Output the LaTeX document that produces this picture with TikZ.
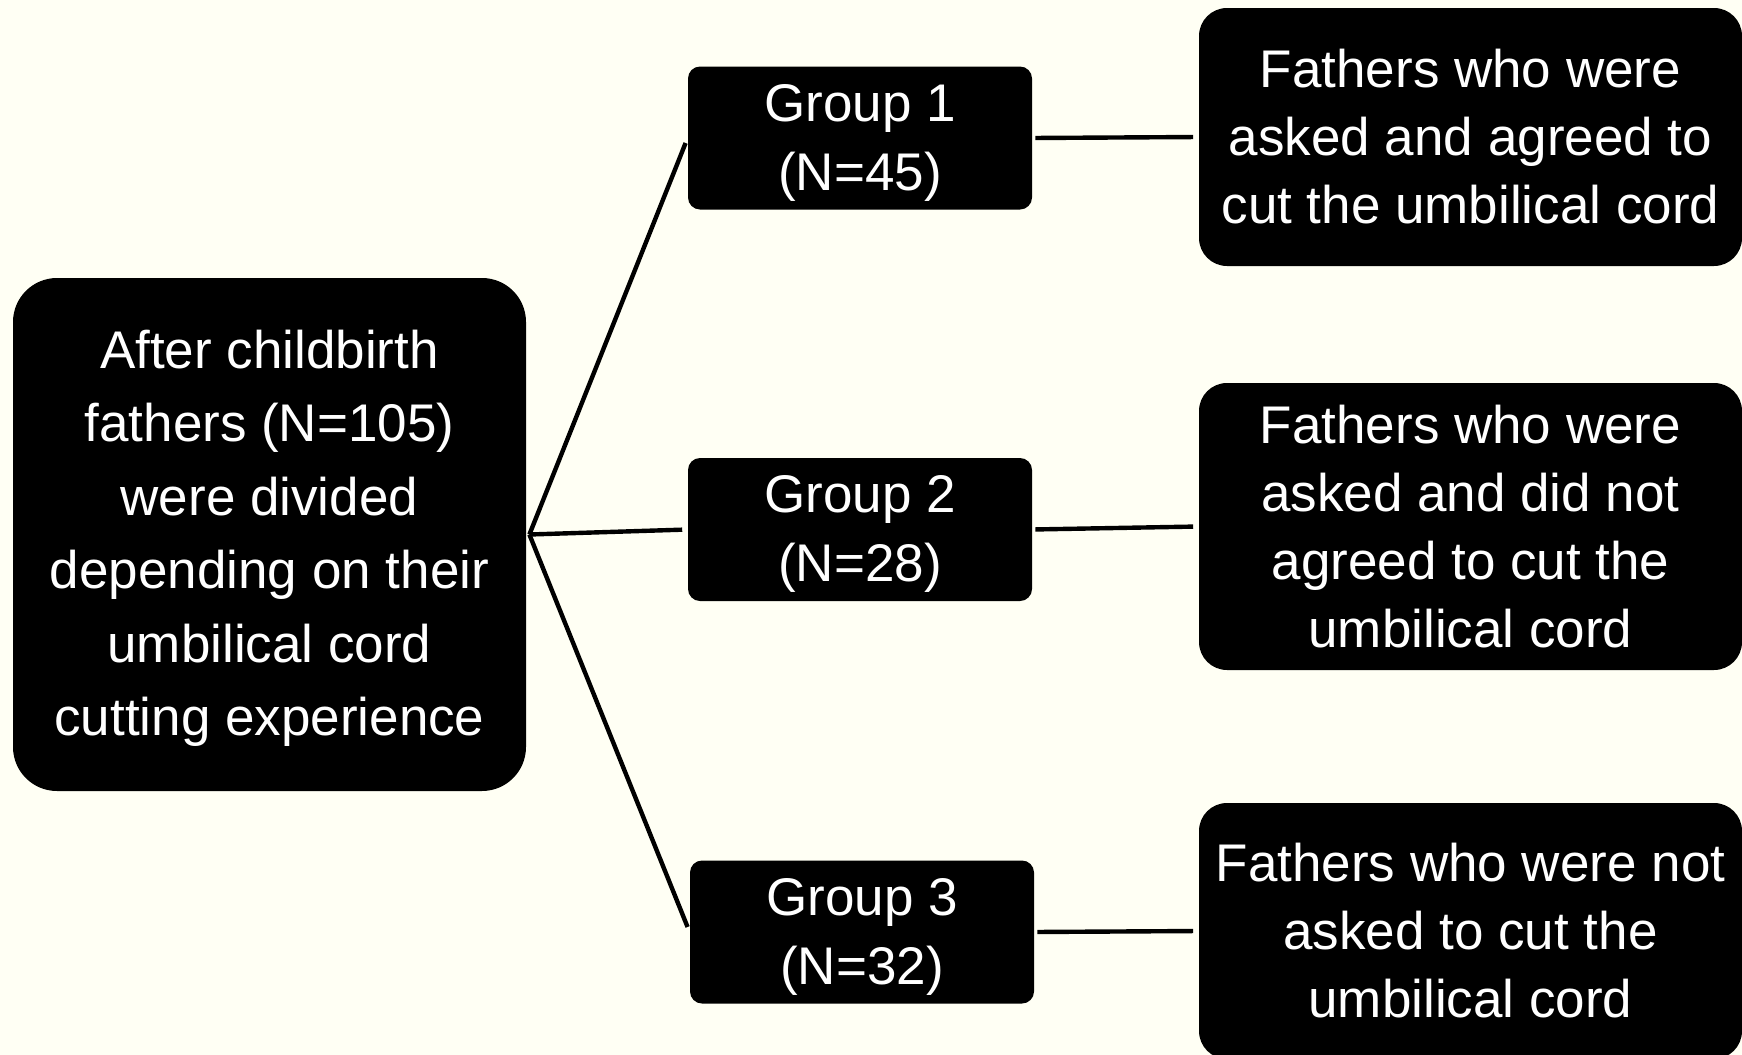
\documentclass[tikz,border=0pt]{standalone}
\usepackage{fontspec}
\setmainfont{Liberation Sans}
\definecolor{bg}{HTML}{FFFFF4}
\newcommand{\firststrut}{\rule{0pt}{23pt}}
\begin{document}
\begin{tikzpicture}[x=0.5pt,y=-0.5pt,
  box/.style={fill=black, text=white, align=center, inner sep=0pt,
    font=\fontsize{26.5pt}{34pt}\selectfont},
  srcbox/.style={box, minimum width=256.5pt, minimum height=256.5pt,
    rounded corners=22pt, font=\fontsize{26.5pt}{36.7pt}\selectfont},
  grpbox/.style={box, minimum width=172pt, minimum height=71.5pt,
    rounded corners=6pt, font=\fontsize{26.5pt}{34.5pt}\selectfont},
  resbox/.style={box, minimum width=271.5pt, rounded corners=14pt},
  conn/.style={line width=2.2pt, shorten >=2.7pt}]
\fill[bg] (0,0) rectangle (1742,1055);
\useasboundingbox (0,0) rectangle (1742,1055);

\node[srcbox] (src) at (269.5,534.5) {\firststrut After childbirth\\fathers (N=105)\\were divided\\depending on their\\umbilical cord\\cutting experience};

\node[grpbox] (g1) at (860,138) {\firststrut Group 1\\(N=45)};
\node[grpbox] (g2) at (860,529.5) {\firststrut Group 2\\(N=28)};
\node[grpbox] (g3) at (862,932) {\firststrut Group 3\\(N=32)};

\node[resbox, minimum height=129pt] (r1) at (1470.5,137) {Fathers who were\\asked and agreed to\\cut the umbilical cord};
\node[resbox, minimum height=143.5pt] (r2) at (1470.5,526.5) {Fathers who were\\asked and did not\\agreed to cut the\\umbilical cord};
\node[resbox, minimum height=128pt] (r3) at (1470.5,931) {Fathers who were not\\asked to cut the\\umbilical cord};

\coordinate (j) at ([xshift=1.5pt]src.east);
\draw[conn] (j) -- (g1.west);
\draw[conn] (j) -- (g2.west);
\draw[conn] (j) -- (g3.west);
\draw[conn, shorten <=1.5pt] (g1.east) -- (r1.west);
\draw[conn, shorten <=1.5pt] (g2.east) -- (r2.west);
\draw[conn, shorten <=1.5pt] (g3.east) -- (r3.west);
\end{tikzpicture}
\end{document}
